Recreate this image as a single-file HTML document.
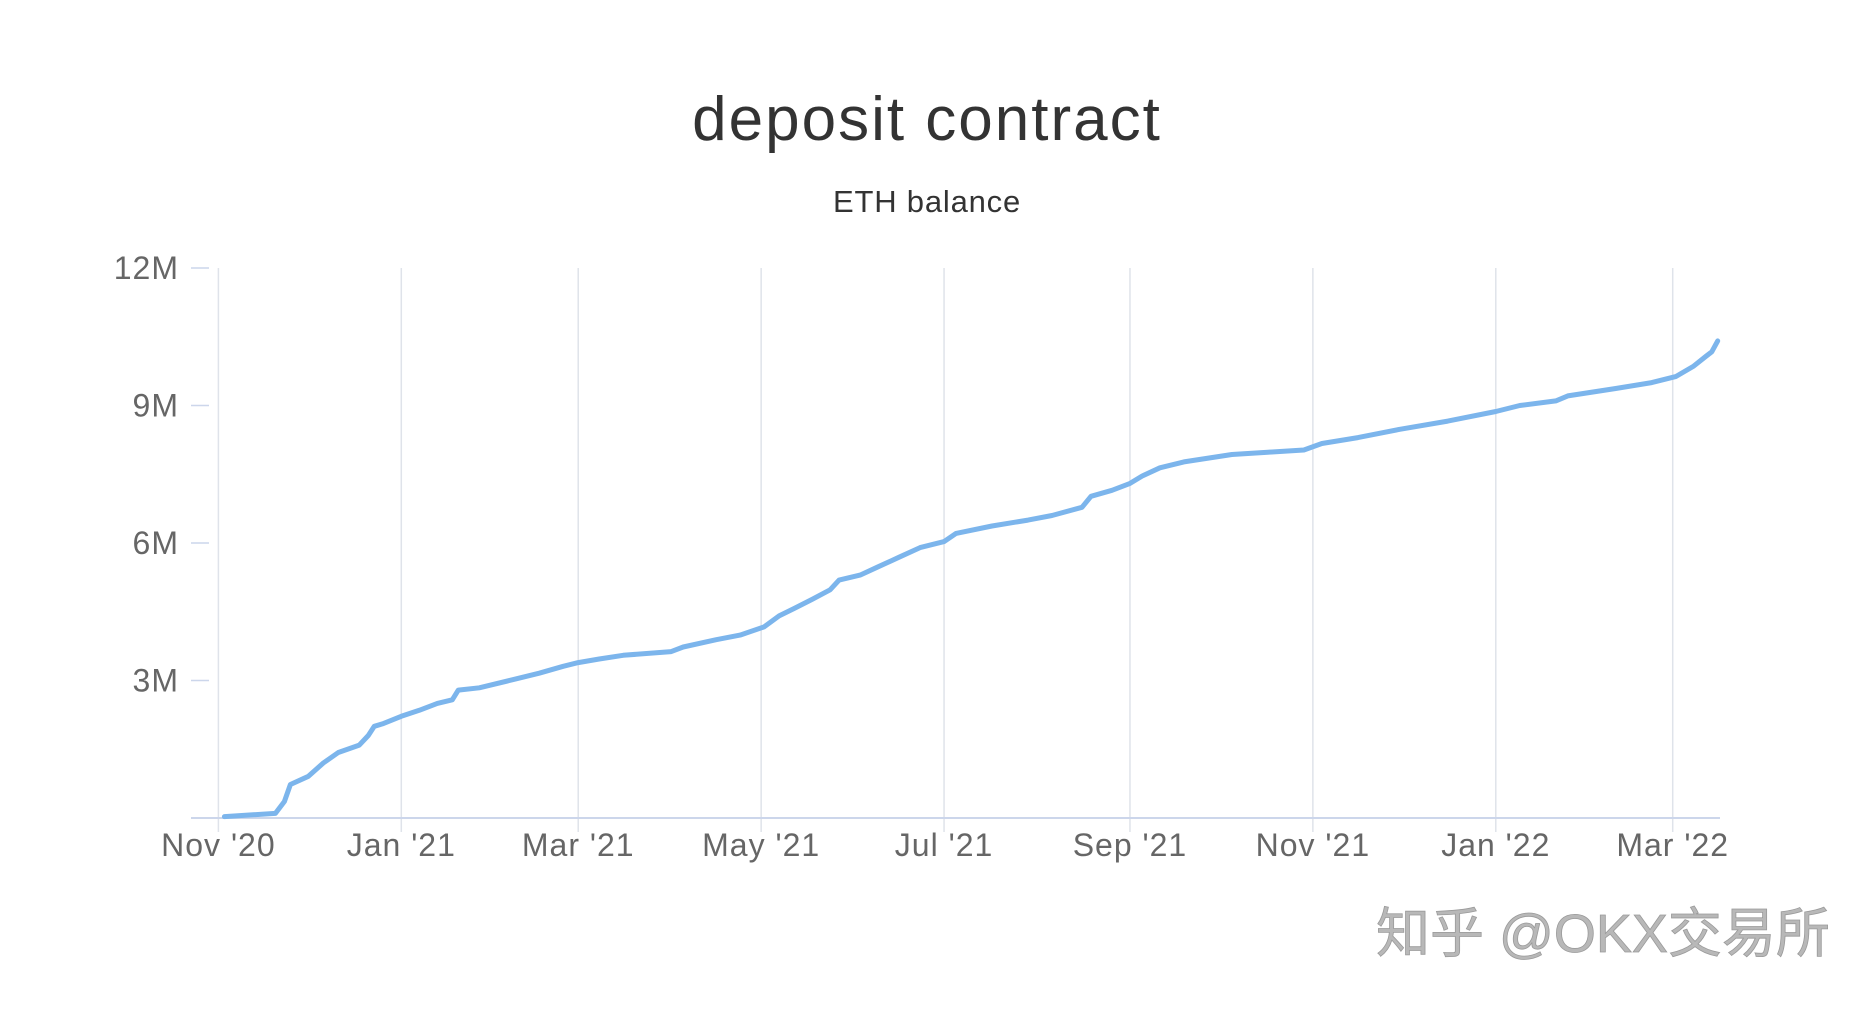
<!DOCTYPE html>
<html><head><meta charset="utf-8"><style>
html,body{margin:0;padding:0;background:#fff;width:1875px;height:1009px;overflow:hidden}
svg{display:block}
text{font-family:"Liberation Sans","DejaVu Sans",sans-serif}
</style></head><body>
<svg id="chart" width="1875" height="1009" viewBox="0 0 1875 1009" xmlns="http://www.w3.org/2000/svg">
<text x="927" y="140" text-anchor="middle" font-size="62" fill="#333" letter-spacing="2">deposit contract</text>
<text x="927" y="212" text-anchor="middle" font-size="31" fill="#333" letter-spacing="0.8">ETH balance</text>
<g id="grid"></g>
<g id="yaxis"></g>
<g id="xaxis"></g>
<g id="series"></g>
<text x="1376" y="952" font-size="54" fill="#b8b8b8" stroke="#9a9a9a" stroke-width="0.8" style='font-family:"Liberation Sans","Noto Sans CJK SC",sans-serif'>知乎 @OKX交易所</text>
</svg>
<script>
// data: day offset from 2020-11-01, balance in millions ETH
const days = [2,19,22,24,30,35,40,47,50,52,55,61,67,73,78,80,87,99,107,115,120,127,135,151,155,166,174,182,187,192,198,204,207,214,220,227,234,242,246,258,270,278,288,291,298,304,308,314,322,338,350,362,368,380,394,410,426,434,446,450,466,478,486,492,496,498,500];
const balances = [0.03,0.1,0.36,0.73,0.91,1.2,1.43,1.59,1.8,2.0,2.06,2.22,2.35,2.5,2.58,2.79,2.84,3.03,3.16,3.31,3.39,3.47,3.55,3.63,3.73,3.89,3.99,4.17,4.41,4.57,4.77,4.98,5.19,5.30,5.48,5.69,5.9,6.03,6.21,6.37,6.5,6.6,6.78,7.02,7.15,7.30,7.46,7.64,7.77,7.93,7.98,8.03,8.17,8.30,8.48,8.66,8.87,9.0,9.1,9.21,9.37,9.50,9.63,9.86,10.07,10.17,10.41];
const yTicks = [3,6,9,12];
const yTickLabels = ["3M","6M","9M","12M"];
const xTickDays = [0,61,120,181,242,304,365,426,485];
const xTickLabels = ["Nov '20","Jan '21","Mar '21","May '21","Jul '21","Sep '21","Nov '21","Jan '22","Mar '22"];

const NS="http://www.w3.org/2000/svg";
const X0=218.4, PXD=(1672.7-218.4)/485, Y0=818, PXM=(818-268)/12;
const xs=d=>X0+d*PXD, ys=v=>Y0-v*PXM;
function mk(tag,attrs,parent){const e=document.createElementNS(NS,tag);for(const k in attrs)e.setAttribute(k,attrs[k]);parent.appendChild(e);return e;}
const grid=document.getElementById('grid'),ya=document.getElementById('yaxis'),xa=document.getElementById('xaxis'),ser=document.getElementById('series');
xTickDays.forEach((d,i)=>{
  const l=mk('line',{x1:xs(d),x2:xs(d),y1:268,y2:832,stroke:'#dfe3ea','stroke-width':1.5},grid);
  
  
  const t=mk('text',{x:xs(d),y:856,'text-anchor':'middle','font-size':32,fill:'#666','letter-spacing':1},xa);
  
  
  t.textContent=xTickLabels[i];
});
const ax=mk('line',{x1:191,x2:1720,y1:Y0,y2:Y0,stroke:'#ccd6eb','stroke-width':2},xa);


yTicks.forEach((v,i)=>{
  const tk=mk('line',{x1:191,x2:209,y1:ys(v),y2:ys(v),stroke:'#ccd6eb','stroke-width':1.5},ya);
  
  
  const t=mk('text',{x:179,y:ys(v)+11,'text-anchor':'end','font-size':32,fill:'#666','letter-spacing':1},ya);
  
  
  t.textContent=yTickLabels[i];
});
const p=mk('path',{d:days.map((d,i)=>(i?'L':'M')+xs(d).toFixed(1)+','+ys(balances[i]).toFixed(1)).join(''),fill:'none',stroke:'#7cb5ec','stroke-width':5,'stroke-linejoin':'round','stroke-linecap':'round'},ser);


</script>
</body></html>
